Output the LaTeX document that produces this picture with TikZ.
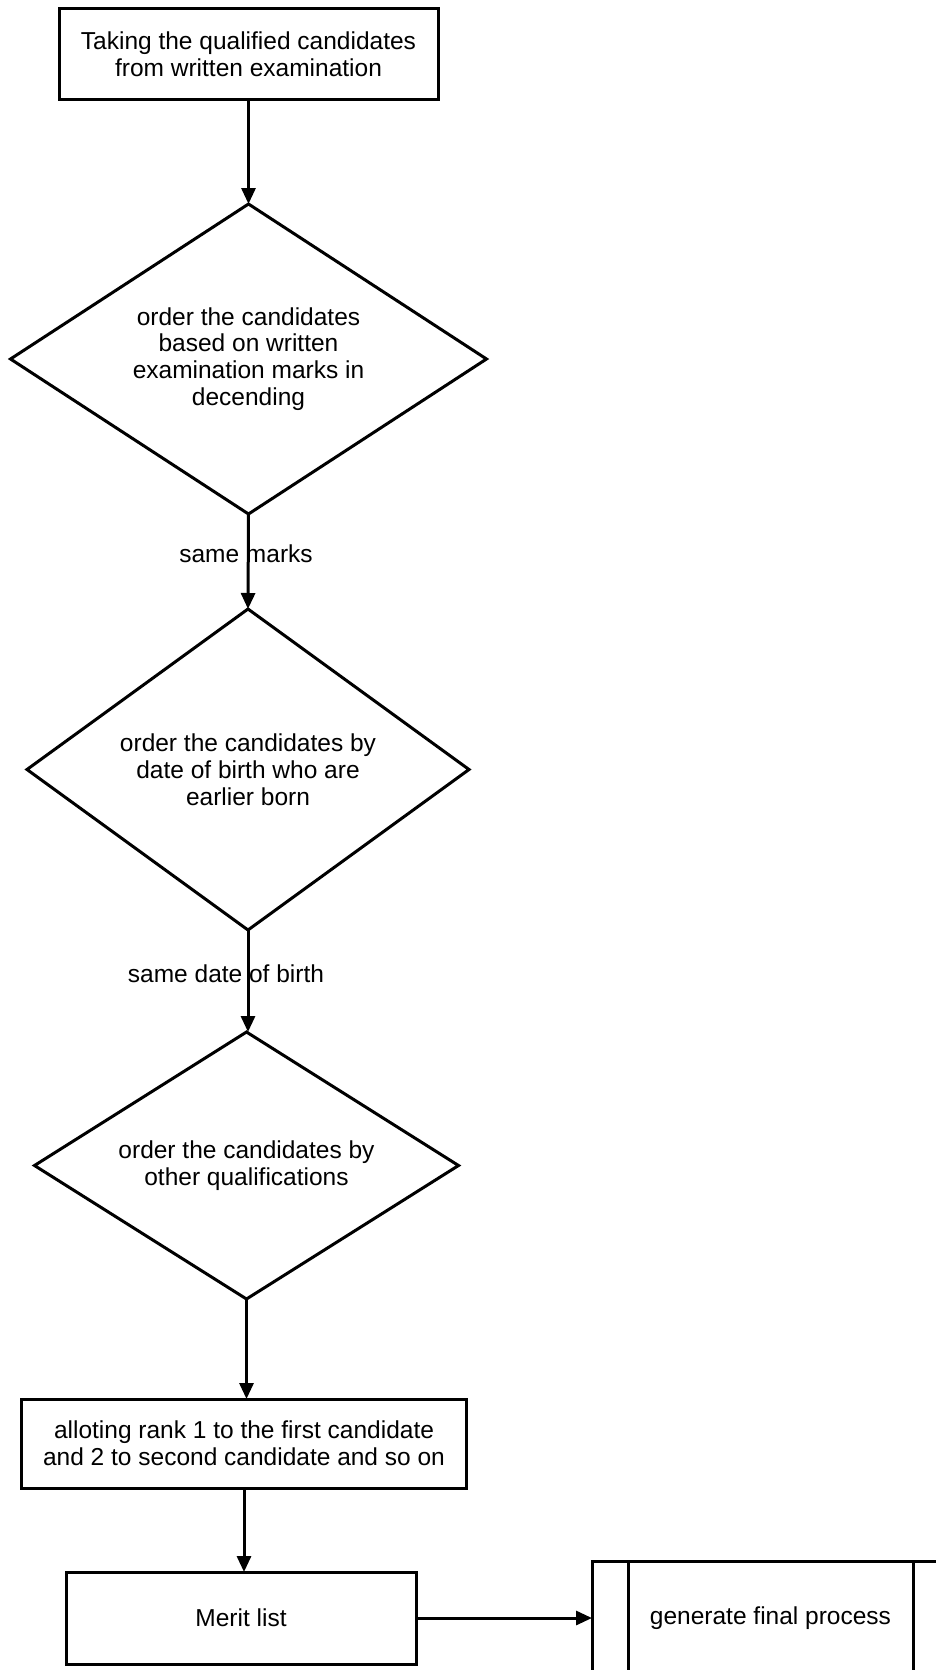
\documentclass[tikz,border=0pt]{standalone}
\usepackage{fontspec}
\setmainfont{Liberation Sans}
\usetikzlibrary{shapes.geometric,arrows.meta}
\begin{document}
\begin{tikzpicture}[x=1pt,y=-1pt,
  every node/.style={font=\fontsize{24.5}{26.8}\selectfont, align=center, inner sep=0pt, outer sep=0pt},
  flowbox/.style={draw, line width=3pt, rectangle},
  decision/.style={draw, line width=3pt, diamond},
  flow/.style={line width=3pt, -{Triangle[length=16pt,width=14pt]}},
  edgetext/.style={}]
\useasboundingbox (0,0) rectangle (936,1670);
\fill[white] (0,0) rectangle (936,1670);

% main column
\node[flowbox, minimum width=379pt, minimum height=90pt] (take) at (248.5,54)
  {Taking the qualified candidates\\from written examination};
\node[decision, shape aspect=1.535, minimum width=476pt, minimum height=310pt] (marks) at (248.5,359)
  {order the candidates\\based on written\\examination marks in\\decending};
\node[decision, shape aspect=1.377, minimum width=442pt, minimum height=321pt] (birth) at (248,769.5)
  {order the candidates by\\date of birth who are\\earlier born};
\node[decision, shape aspect=1.588, minimum width=424pt, minimum height=267pt] (other) at (246.5,1165.5)
  {order the candidates by\\other qualifications};
\node[flowbox, minimum width=445pt, minimum height=89pt] (rank) at (244,1443.5)
  {alloting rank 1 to the first candidate\\and 2 to second candidate and so on};
\node[flowbox, minimum width=350pt, minimum height=92pt] (merit) at (241,1618)
  {Merit list};

% predefined process box at the right, running past the edge of the page
\begin{scope}
  \clip (0,0) rectangle (936,1670);
  \node[flowbox, minimum width=357pt, minimum height=114pt] (final) at (770.5,1618)
    {generate final process};
  \draw[line width=3pt] ([xshift=36pt]final.north west) -- ([xshift=36pt]final.south west);
  \draw[line width=3pt] ([xshift=-36pt]final.north east) -- ([xshift=-36pt]final.south east);
\end{scope}

% edge labels
\node[edgetext] (lmarks) at (246,554) {same marks};
\node[edgetext] (lbirth) at (226,974) {same date of birth};

% connectors
\draw[flow] (take.south) -- (marks.north);
\draw[flow] (marks.south) -- (birth.north);
\draw[flow] (birth.south) -- (birth.south |- other.north);
\draw[flow] (other.south) -- (other.south |- rank.north);
\draw[flow] (rank.south) -- (rank.south |- merit.north);
\draw[flow] (merit.east) -- (final.west);
\end{tikzpicture}
\end{document}
